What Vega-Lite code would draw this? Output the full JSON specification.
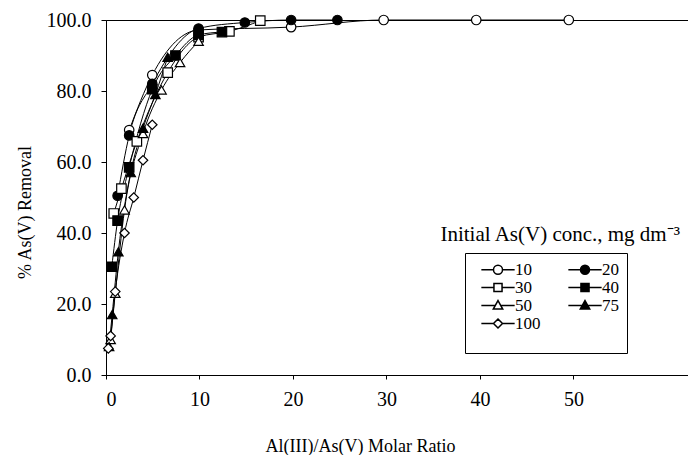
{
  "$schema": "https://vega.github.io/schema/vega-lite/v6.json",
  "autosize": "none",
  "width": 582,
  "height": 355,
  "padding": {"left": 106, "top": 20, "right": 0, "bottom": 80},
  "background": "white",
  "config": {
    "font": "Times New Roman",
    "view": {"stroke": "black", "strokeWidth": 1},
    "axis": {"grid": false, "domainColor": "black", "tickColor": "black", "labelColor": "black", "titleColor": "black", "titleFontWeight": "normal", "labelFont": "Times New Roman", "titleFont": "Times New Roman"}
  },
  "title": {"text": "Initial As(V) conc., mg dm⁻³", "anchor": "end", "frame": "group", "orient": "top", "dy": 239, "dx": -8, "font": "Times New Roman", "fontSize": 21, "fontWeight": "normal", "color": "black"},
  "data": {"values": [
    {"series": "10", "ratio": 2.48, "removal": 69},
    {"series": "10", "ratio": 4.95, "removal": 84.5},
    {"series": "10", "ratio": 9.9, "removal": 97.2},
    {"series": "10", "ratio": 19.8, "removal": 98},
    {"series": "10", "ratio": 29.7, "removal": 100},
    {"series": "10", "ratio": 39.6, "removal": 100},
    {"series": "10", "ratio": 49.5, "removal": 100},
    {"series": "20", "ratio": 1.24, "removal": 50.5},
    {"series": "20", "ratio": 2.48, "removal": 67.5},
    {"series": "20", "ratio": 4.95, "removal": 82},
    {"series": "20", "ratio": 9.9, "removal": 97.6},
    {"series": "20", "ratio": 14.85, "removal": 99.3},
    {"series": "20", "ratio": 19.8, "removal": 100},
    {"series": "20", "ratio": 24.75, "removal": 100},
    {"series": "30", "ratio": 0.83, "removal": 45.5},
    {"series": "30", "ratio": 1.65, "removal": 52.5},
    {"series": "30", "ratio": 3.3, "removal": 65.8},
    {"series": "30", "ratio": 6.6, "removal": 85.2},
    {"series": "30", "ratio": 9.9, "removal": 95.2},
    {"series": "30", "ratio": 13.2, "removal": 96.8},
    {"series": "30", "ratio": 16.5, "removal": 99.8},
    {"series": "40", "ratio": 0.62, "removal": 30.5},
    {"series": "40", "ratio": 1.24, "removal": 43.5},
    {"series": "40", "ratio": 2.48, "removal": 58.5},
    {"series": "40", "ratio": 4.95, "removal": 80.5},
    {"series": "40", "ratio": 7.43, "removal": 90},
    {"series": "40", "ratio": 9.9, "removal": 95.8},
    {"series": "40", "ratio": 12.4, "removal": 96.6},
    {"series": "50", "ratio": 0.495, "removal": 10},
    {"series": "50", "ratio": 0.99, "removal": 23},
    {"series": "50", "ratio": 1.98, "removal": 46.5},
    {"series": "50", "ratio": 3.96, "removal": 68},
    {"series": "50", "ratio": 5.94, "removal": 80.3},
    {"series": "50", "ratio": 7.92, "removal": 88},
    {"series": "50", "ratio": 9.9, "removal": 94},
    {"series": "75", "ratio": 0.33, "removal": 8},
    {"series": "75", "ratio": 0.66, "removal": 17},
    {"series": "75", "ratio": 1.32, "removal": 34.7},
    {"series": "75", "ratio": 2.64, "removal": 57},
    {"series": "75", "ratio": 3.96, "removal": 69.5},
    {"series": "75", "ratio": 5.28, "removal": 79},
    {"series": "75", "ratio": 6.6, "removal": 89.5},
    {"series": "100", "ratio": 0.248, "removal": 7.5},
    {"series": "100", "ratio": 0.495, "removal": 11},
    {"series": "100", "ratio": 0.99, "removal": 23.5},
    {"series": "100", "ratio": 1.98, "removal": 40},
    {"series": "100", "ratio": 2.97, "removal": 50},
    {"series": "100", "ratio": 3.96, "removal": 60.5},
    {"series": "100", "ratio": 4.95, "removal": 70.5}
  ]},
  "encoding": {
    "x": {"field": "ratio", "type": "quantitative", "scale": {"domain": [0, 62.25], "nice": false},
      "axis": {"values": [0, 10, 20, 30, 40, 50], "tickSize": 4, "labelPadding": 10, "labelFont": "Times New Roman", "labelFontSize": 20, "titleFont": "Times New Roman", "titleFontSize": 18, "title": "Al(III)/As(V) Molar Ratio", "titleX": 254, "titleY": 62, "titleAnchor": "middle"}},
    "y": {"field": "removal", "type": "quantitative", "scale": {"domain": [0, 100], "nice": false},
      "axis": {"values": [0, 20, 40, 60, 80, 100], "format": ".1f", "tickSize": 5, "labelPadding": 10, "labelFont": "Times New Roman", "labelFontSize": 20, "titleFont": "Times New Roman", "titleFontSize": 18, "title": "% As(V) Removal", "titleX": -72, "titleY": 192}}
  },
  "layer": [
    {
      "mark": {"type": "line", "stroke": "black", "strokeWidth": 1, "interpolate": "monotone"},
      "encoding": {"detail": {"field": "series", "type": "nominal"}}
    },
    {
      "mark": {"type": "point", "filled": true, "size": 90, "stroke": "black", "strokeWidth": 1.2, "opacity": 1},
      "encoding": {
        "shape": {"field": "series", "type": "nominal", "legend": null,
          "scale": {"domain": ["10", "20", "30", "40", "50", "75", "100"], "range": ["circle", "circle", "square", "square", "triangle-up", "triangle-up", "diamond"]}},
        "fill": {"field": "series", "type": "nominal", "legend": null,
          "scale": {"domain": ["10", "20", "30", "40", "50", "75", "100"], "range": ["white", "black", "white", "black", "white", "black", "white"]}}
      }
    },
    {
      "transform": [{"filter": "false"}],
      "mark": {"type": "point", "filled": true, "size": 81, "stroke": "black", "strokeWidth": 1, "opacity": 1},
      "encoding": {
        "shape": {"field": "series", "type": "nominal",
          "scale": {"domain": ["10", "20", "30", "40", "50", "75", "100"], "range": [
            "M-3.7,0H-1M1,0H3.7M1,0A1,1,0,1,1,-1,0A1,1,0,1,1,1,0Z",
            "M-3.7,0H-1M1,0H3.7M1,0A1,1,0,1,1,-1,0A1,1,0,1,1,1,0Z",
            "M-3.7,0H-0.9M0.9,0H3.7M-0.9,-0.9H0.9V0.9H-0.9Z",
            "M-3.7,0H-0.9M0.9,0H3.7M-0.9,-0.9H0.9V0.9H-0.9Z",
            "M-3.7,0H-0.6M0.6,0H3.7M0,-1.1L1.05,0.8L-1.05,0.8Z",
            "M-3.7,0H-0.6M0.6,0H3.7M0,-1.1L1.05,0.8L-1.05,0.8Z",
            "M-3.7,0H-1M1,0H3.7M0,-1L1,0L0,1L-1,0Z"
          ]},
          "legend": {"title": " ", "titleOrient": "bottom", "titleFont": "Times New Roman", "titleFontSize": 10, "titlePadding": 3, "orient": "none", "direction": "horizontal", "legendX": 359, "legendY": 233, "strokeColor": "black", "padding": 8, "columns": 2, "columnPadding": 19, "rowPadding": 0, "symbolSize": 81, "symbolOffset": 16.5, "labelOffset": 8.5, "labelFont": "Times New Roman", "labelFontSize": 17, "labelColor": "black", "symbolOpacity": 1,
            "encode": {"symbols": {"update": {"stroke": {"value": "black"}, "strokeWidth": {"value": 1}, "opacity": {"value": 1}}}}}},
        "fill": {"field": "series", "type": "nominal",
          "scale": {"domain": ["10", "20", "30", "40", "50", "75", "100"], "range": ["white", "black", "white", "black", "white", "black", "white"]},
          "legend": {"title": " ", "titleOrient": "bottom", "titleFont": "Times New Roman", "titleFontSize": 10, "titlePadding": 3, "orient": "none", "direction": "horizontal", "legendX": 359, "legendY": 233, "strokeColor": "black", "padding": 8, "columns": 2, "columnPadding": 19, "rowPadding": 0, "symbolSize": 81, "symbolOffset": 16.5, "labelOffset": 8.5, "labelFont": "Times New Roman", "labelFontSize": 17, "labelColor": "black", "symbolOpacity": 1,
            "encode": {"symbols": {"update": {"stroke": {"value": "black"}, "strokeWidth": {"value": 1}, "opacity": {"value": 1}}}}}}
      }
    }
  ],
  "resolve": {"scale": {"shape": "independent", "fill": "independent"}}
}
